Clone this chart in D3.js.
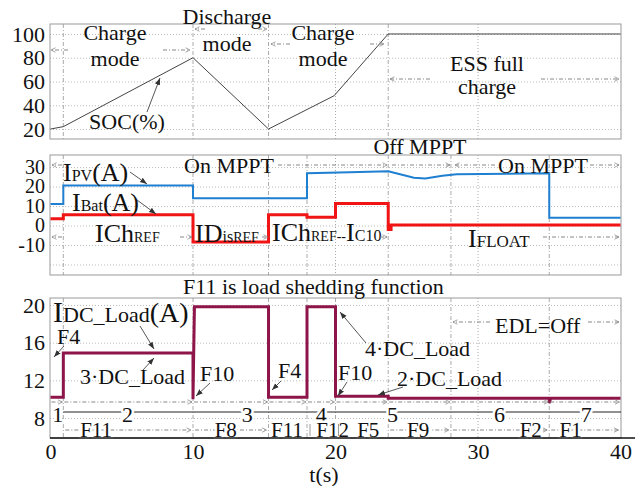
<!DOCTYPE html>
<html>
<head>
<meta charset="utf-8">
<script src="https://cdn.jsdelivr.net/npm/d3@7"></script>
<style>
  body { margin: 0; background: #fff; }
  svg, svg text { font-family: "Liberation Serif", Tinos, "DejaVu Serif", serif !important; }
  svg text { fill: #111; }
  .halo { paint-order: stroke; stroke: #fff; stroke-width: 5px; stroke-linejoin: round; }
</style>
</head>
<body>
<div id="chart"></div>
<script>
// ---- data ----
const socTime  = [0, 0.9, 10, 15.3, 19.9, 23.7, 40];
const socValue = [20, 22, 80, 20, 48, 100, 100];

const pvTime  = [0, 0.9, 0.9, 10, 10, 18, 18, 21, 23.7, 25.5, 26.3, 27.5, 28.5, 35, 35, 40];
const pvValue = [11, 11, 20.5, 20.5, 14, 14, 26.8, 27.3, 27.8, 24.5, 24.2, 25.5, 26.3, 26.8, 4, 4];

const batTime  = [0, 0.9, 0.9, 10, 10, 15.3, 15.3, 18, 18, 20, 20, 23.7, 23.7, 23.9, 23.9, 40];
const batValue = [3.5, 3.5, 5.5, 5.5, -8.5, -8.5, 5.5, 5.5, 4.3, 4.3, 11.3, 11.3, -2, -2, 0.3, 0.3];

const loadTime  = [0, 0.9, 0.9, 10, 10, 10.1, 15.3, 15.3, 18, 18, 20, 20, 23.7, 23.7, 35, 35, 35.1, 40];
const loadValue = [10.2, 10.2, 14.9, 14.9, 10, 19.8, 19.8, 10.2, 10.2, 19.8, 19.8, 10.3, 10.3, 10.1, 10.1, 9.6, 10.1, 10.1];

const eventTimes = [0.9, 10, 15.3, 18, 20, 23.7, 28.1, 35];
const stageLabels = ["1", "2", "3", "4", "5", "6", "7"];
const stageAt     = [0.5, 5.4, 13.8, 19.0, 24.0, 31.5, 37.6];
const fLabels = ["F11", "F8", "F11", "F12", "F5", "F9", "F2", "F1"];
const fAt     = [3.2, 12.3, 16.6, 19.8, 22.3, 25.8, 33.7, 36.5];

const socTicks  = [20, 40, 60, 80, 100];
const curTicks  = [-10, 0, 10, 20, 30];
const curGrid   = [-20, -10, 0, 10, 20, 30];
const loadTicks = [8, 12, 16, 20];
const timeTicks = [0, 10, 20, 30, 40];

// ---- layout ----
const W = 635, H = 486;
const left = 50, right = 621;
const FONT = '"Liberation Serif", Tinos, "DejaVu Serif", serif';
const x = d3.scaleLinear().domain([0, 40]).range([50.5, 620.5]);
const y1 = d3.scaleLinear().domain([11.6, 108.4]).range([139, 24]);
const y2 = d3.scaleLinear().domain([-25.4, 36.2]).range([275, 155]);
const y3 = d3.scaleLinear().domain([5.88, 20.74]).range([438, 298]);

const svg = d3.select("#chart").append("svg").attr("width", W).attr("height", H)
  .attr("font-family", FONT);
const defs = svg.append("defs");
defs.append("marker").attr("id", "head").attr("viewBox", "0 -4 8 8")
  .attr("refX", 8).attr("refY", 0).attr("markerWidth", 7).attr("markerHeight", 7)
  .attr("markerUnits", "userSpaceOnUse").attr("orient", "auto")
  .append("path").attr("d", "M0,-3L8,0L0,3Z").attr("fill", "#333");
defs.append("marker").attr("id", "open").attr("viewBox", "0 -4 6 8")
  .attr("refX", 6).attr("refY", 0).attr("markerWidth", 5).attr("markerHeight", 6)
  .attr("markerUnits", "userSpaceOnUse").attr("orient", "auto")
  .append("path").attr("d", "M0,-3L6,0L0,3").attr("fill", "none").attr("stroke", "#888").attr("stroke-width", 1);

function gridAndTicks(y, ticks, grid, fs = 22) {
  const g = svg.append("g").attr("transform", `translate(${left},0)`)
    .call(d3.axisLeft(y).tickValues(grid || ticks).tickSize(-(right - left)).tickPadding(5)
      .tickFormat(d => ticks.includes(d) ? d : ""));
  g.attr("font-family", FONT).attr("font-size", fs);
  g.select(".domain").remove();
  g.selectAll(".tick line").attr("stroke", "#bbb").attr("stroke-dasharray", "1,2");
  g.selectAll(".tick text").attr("fill", "#111");
}

function vlines(y, times, dash) {
  svg.append("g").selectAll("line").data(times).join("line")
    .attr("x1", d => x(d)).attr("x2", d => x(d))
    .attr("y1", y.range()[1]).attr("y2", y.range()[0])
    .attr("stroke", "#aaa").attr("stroke-dasharray", dash);
}

function box(y) {
  svg.append("rect").attr("x", left).attr("y", y.range()[1])
    .attr("width", right - left).attr("height", y.range()[0] - y.range()[1])
    .attr("fill", "none").attr("stroke", "#999");
}

function series(ts, vs, y, color, w) {
  svg.append("path").datum(ts.map((t, i) => [t, vs[i]]))
    .attr("fill", "none").attr("stroke", color).attr("stroke-width", w)
    .attr("d", d3.line().x(d => x(d[0])).y(d => y(d[1])));
}

function label(txt, px, py, anchor = "start", cls, fs = 22) {
  return svg.append("text").attr("x", px).attr("y", py).attr("font-size", fs)
    .attr("text-anchor", anchor).attr("class", cls || null).text(txt);
}

function rich(parts, px, py) {
  const t = svg.append("text").attr("x", px).attr("y", py);
  parts.forEach(([s, fs]) => t.append("tspan").attr("font-size", fs).text(s));
}

function pointer(x1, y1_, x2, y2_) {
  svg.append("line").attr("x1", x1).attr("y1", y1_).attr("x2", x2).attr("y2", y2_)
    .attr("stroke", "#444").attr("stroke-width", 0.9).attr("marker-end", "url(#head)");
}

function dashArrow(x1, y1_, x2, y2_) {
  svg.append("line").attr("x1", x1).attr("y1", y1_).attr("x2", x2).attr("y2", y2_)
    .attr("stroke", "#888").attr("stroke-dasharray", "4,2,1,2").attr("marker-end", "url(#open)");
}

// ---- panel 1: SOC ----
gridAndTicks(y1, socTicks);
vlines(y1, [20, 30], "1,2");
vlines(y1, [0.9, 10, 15.3, 23.7], "4,2,1,2");
box(y1);
series(socTime, socValue, y1, "#444", 1);

label("Charge", 115, 40, "middle"); label("mode", 115, 66, "middle");
label("Discharge", 227, 24, "middle"); label("mode", 227, 51, "middle");
label("Charge", 323, 40, "middle"); label("mode", 323, 66, "middle");
label("ESS full", 487, 71, "middle"); label("charge", 487, 94, "middle");
label("SOC(%)", 127, 129, "middle");
pointer(147, 112, 160, 78);
dashArrow(68, 50, 51, 50); dashArrow(163, 50, 190, 50);
dashArrow(205, 29, 195, 29); dashArrow(258, 29, 267, 29);
dashArrow(290, 44, 271, 44); dashArrow(370, 44, 384, 44);
dashArrow(430, 79, 390, 79); dashArrow(541, 79, 619, 79);

// ---- panel 2: currents ----
gridAndTicks(y2, curTicks, curGrid, 20);
vlines(y2, [30], "1,2");
vlines(y2, eventTimes.filter(t => t !== 20), "4,2,1,2");
vlines(y2, [20], "1,2");
box(y2);
series(pvTime, pvValue, y2, "#1f7fd0", 2);
series(batTime, batValue, y2, "#f01414", 3);

label("On MPPT", 229, 173, "middle");
label("Off MPPT", 420, 154, "middle");
label("On MPPT", 543, 173, "middle");
rich([["I", 26], ["PV", 16], ["(A)", 26]], 63, 181);
rich([["I", 26], ["Bat", 16], ["(A)", 26]], 72, 211);
rich([["I", 26], ["Ch", 26], ["REF", 14]], 95, 242);
rich([["I", 26], ["D", 26], ["is", 16], ["REF", 14]], 195, 242);
rich([["I", 26], ["Ch", 26], ["REF", 14], ["--", 14], ["I", 26], ["C10", 16]], 272, 241);
rich([["I", 26], ["FLOAT", 17]], 468, 247);
pointer(130, 172, 147, 184);
pointer(137, 200, 156, 214);
dashArrow(62, 165, 52, 165); dashArrow(278, 165, 387, 165);
dashArrow(392, 165, 450, 165); dashArrow(495, 165, 455, 165); dashArrow(590, 165, 619, 165);
dashArrow(62, 237, 52, 237); dashArrow(180, 237, 192, 237);
dashArrow(262, 237, 268, 237); dashArrow(380, 237, 387, 237);
dashArrow(543, 237, 619, 237);

// ---- panel 3: DC load ----
gridAndTicks(y3, loadTicks);
vlines(y3, [30], "1,2");
vlines(y3, eventTimes, "4,2,1,2");
box(y3);
series(loadTime, loadValue, y3, "#8e1549", 3);

// stage rows under the load trace
const bounds = [0].concat(eventTimes, [40]);
d3.pairs(bounds).forEach(([a, b]) => dashArrow(x(a) + 1, 402, x(b) - 1, 402));
svg.append("line").attr("x1", x(0.9)).attr("x2", right).attr("y1", 412).attr("y2", 412)
  .attr("stroke", "#222").attr("stroke-width", 1);
[[0.9, 10], [10, 15.3], [23.7, 28.1], [28.1, 35], [35, 40]]
  .forEach(([a, b]) => dashArrow(x(a) + 2, 430, x(b) - 2, 430));
stageLabels.forEach((s, i) => label(s, x(stageAt[i]), 422, "middle", "halo"));
fLabels.forEach((s, i) => label(s, x(fAt[i]), 437, "middle", "halo", 21));
[18, 20].forEach(t => svg.append("line").attr("x1", x(t) + 3).attr("x2", x(t) + 3)
  .attr("y1", 424).attr("y2", 436).attr("stroke", "#999"));

label("F11 is load shedding function", 183, 294);
rich([["I", 30], ["DC_Load", 22], ["(A)", 28]], 53, 322);
label("F4", 57, 344);
label("3\u00b7DC_Load", 80, 384);
label("F10", 200, 381);
label("F4", 278, 378);
label("4\u00b7DC_Load", 365, 356);
label("F10", 338, 380);
label("2\u00b7DC_Load", 397, 386);
label("EDL=Off", 495, 333);
pointer(140, 326, 154, 349);
pointer(143, 370, 154, 358);
pointer(64, 346, 54, 357);
pointer(210, 383, 196, 396);
pointer(281, 381, 272, 390);
pointer(366, 343, 340, 312);
pointer(347, 382, 338, 396);
pointer(403, 387, 378, 395);
dashArrow(490, 322, 453, 322); dashArrow(588, 322, 619, 322);

// ---- time axis ----
const xa = svg.append("g").attr("transform", "translate(0,438)")
  .call(d3.axisBottom(x).tickValues(timeTicks).tickSize(0).tickPadding(5));
xa.attr("font-family", FONT).attr("font-size", 22);
xa.select(".domain").remove();
xa.selectAll(".tick text").attr("fill", "#111");
svg.append("line").attr("x1", left).attr("x2", W).attr("y1", 438).attr("y2", 438)
  .attr("stroke", "#111").attr("stroke-width", 1.5);
label("t(s)", 324, 482, "middle");
</script>
</body>
</html>
